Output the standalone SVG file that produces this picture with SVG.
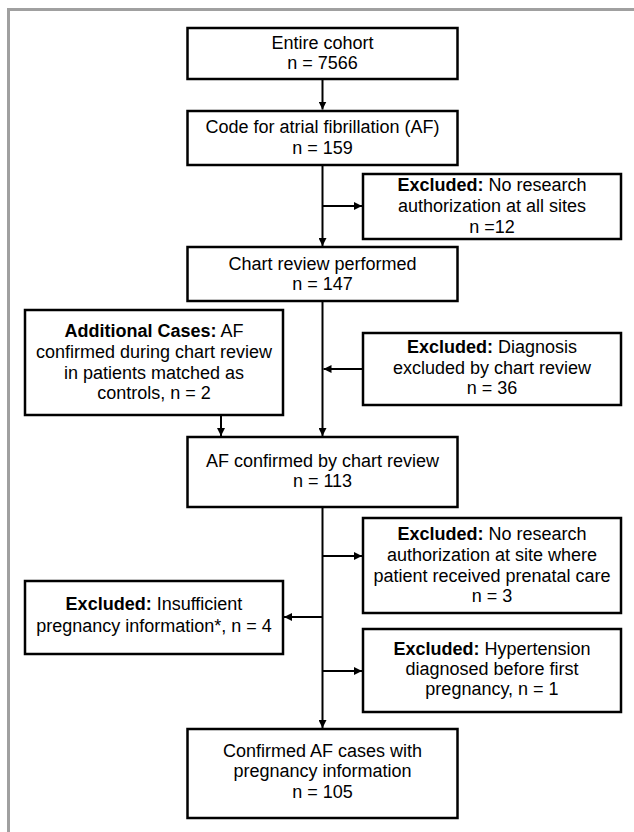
<svg xmlns="http://www.w3.org/2000/svg" width="634" height="832" viewBox="0 0 634 832">
<style>
.box{fill:#fff;stroke:#000;stroke-width:2.5}
.t{font-family:"Liberation Sans",Arial,sans-serif;font-size:18px;fill:#000;text-anchor:middle}
.b{font-weight:bold}
.ln{fill:none;stroke:#000;stroke-width:2}
.frame{fill:none;stroke:#a0a0a0;stroke-width:3}
</style>
<defs>
<marker id="ah" viewBox="0 0 10 10" refX="10" refY="5" markerWidth="8" markerHeight="8" markerUnits="userSpaceOnUse" orient="auto">
<path d="M0,0 L10,5 L0,10 z" fill="#000"/>
</marker>
</defs>
<rect width="634" height="832" fill="#fff"/>
<path class="frame" d="M8.5,832 V9.5 H634"/>
<g id="connectors">
<line class="ln" x1="322.5" y1="79" x2="322.5" y2="109.5" marker-end="url(#ah)"/>
<line class="ln" x1="322.5" y1="165" x2="322.5" y2="246" marker-end="url(#ah)"/>
<line class="ln" x1="322.5" y1="206" x2="362" y2="206" marker-end="url(#ah)"/>
<line class="ln" x1="322.5" y1="301" x2="322.5" y2="436" marker-end="url(#ah)"/>
<line class="ln" x1="363" y1="369" x2="323.5" y2="369" marker-end="url(#ah)"/>
<line class="ln" x1="221" y1="415" x2="221" y2="436" marker-end="url(#ah)"/>
<line class="ln" x1="322.5" y1="507" x2="322.5" y2="728" marker-end="url(#ah)"/>
<line class="ln" x1="322.5" y1="556" x2="362" y2="556" marker-end="url(#ah)"/>
<line class="ln" x1="322.5" y1="617" x2="284" y2="617" marker-end="url(#ah)"/>
<line class="ln" x1="322.5" y1="671" x2="362" y2="671" marker-end="url(#ah)"/>
</g>
<g id="n1">
<rect class="box" x="187.5" y="28" width="270" height="51"/>
<text class="t" x="322.5" y="49">Entire cohort</text>
<text class="t" x="322.5" y="69">n = 7566</text>
</g>
<g id="n2">
<rect class="box" x="187.5" y="111" width="270" height="54"/>
<text class="t" x="322.5" y="133">Code for atrial fibrillation (AF)</text>
<text class="t" x="322.5" y="154">n = 159</text>
</g>
<g id="n3">
<rect class="box" x="363" y="174" width="258" height="65"/>
<text class="t" x="492" y="191"><tspan class="b">Excluded:</tspan> No research</text>
<text class="t" x="492" y="212">authorization at all sites</text>
<text class="t" x="492" y="233">n =12</text>
</g>
<g id="n4">
<rect class="box" x="187.5" y="247" width="270" height="54"/>
<text class="t" x="322.5" y="270">Chart review performed</text>
<text class="t" x="322.5" y="290">n = 147</text>
</g>
<g id="n5">
<rect class="box" x="25" y="310" width="258" height="105"/>
<text class="t" x="154" y="337"><tspan class="b">Additional Cases:</tspan> AF</text>
<text class="t" x="154" y="358">confirmed during chart review</text>
<text class="t" x="154" y="379">in patients matched as</text>
<text class="t" x="154" y="399">controls, n = 2</text>
</g>
<g id="n6">
<rect class="box" x="363" y="333" width="258" height="72"/>
<text class="t" x="492" y="353"><tspan class="b">Excluded:</tspan> Diagnosis</text>
<text class="t" x="492" y="374">excluded by chart review</text>
<text class="t" x="492" y="394">n = 36</text>
</g>
<g id="n7">
<rect class="box" x="187.5" y="437" width="270" height="70"/>
<text class="t" x="322.5" y="467">AF confirmed by chart review</text>
<text class="t" x="322.5" y="487">n = 113</text>
</g>
<g id="n8">
<rect class="box" x="363" y="518" width="258" height="95"/>
<text class="t" x="492" y="540"><tspan class="b">Excluded:</tspan> No research</text>
<text class="t" x="492" y="561">authorization at site where</text>
<text class="t" x="492" y="582">patient received prenatal care</text>
<text class="t" x="492" y="602">n = 3</text>
</g>
<g id="n9">
<rect class="box" x="25" y="581" width="258" height="73"/>
<text class="t" x="154" y="610"><tspan class="b">Excluded:</tspan> Insufficient</text>
<text class="t" x="154" y="632">pregnancy information*, n = 4</text>
</g>
<g id="n10">
<rect class="box" x="363" y="629" width="258" height="83"/>
<text class="t" x="492" y="655"><tspan class="b">Excluded:</tspan> Hypertension</text>
<text class="t" x="492" y="675">diagnosed before first</text>
<text class="t" x="492" y="695">pregnancy, n = 1</text>
</g>
<g id="n11">
<rect class="box" x="187.5" y="729" width="270" height="89"/>
<text class="t" x="322.5" y="757">Confirmed AF cases with</text>
<text class="t" x="322.5" y="777">pregnancy information</text>
<text class="t" x="322.5" y="798">n = 105</text>
</g>
</svg>
